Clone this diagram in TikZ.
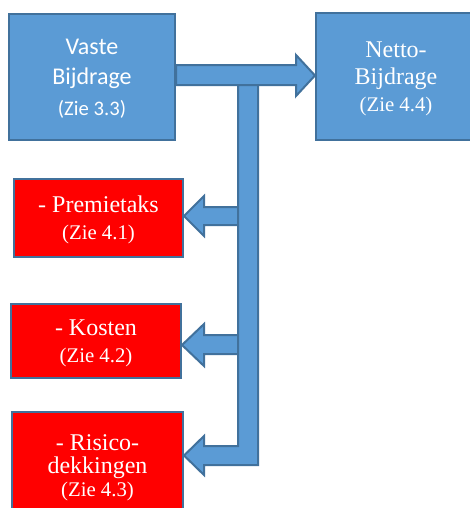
\documentclass[tikz,border=0pt]{standalone}
\usepackage{fontspec}
\setmainfont{Liberation Serif}
\newfontfamily\calibri{Carlito}
\usepackage{tikz}
\definecolor{boxblue}{RGB}{91,155,213}
\definecolor{edgeblue}{RGB}{65,113,156}

\begin{document}
\begin{tikzpicture}[x=0.75pt, y=-0.75pt, line width=1.5pt]
\useasboundingbox (0,0) rectangle (470,508);
\tikzstyle{every node} = [rectangle, draw=edgeblue, text=white, align=center, inner sep=0pt, text depth=0pt]
\tikzstyle{blue box} = [fill=boxblue]
\tikzstyle{red box} = [fill=red, font=\rmfamily\fontsize{18}{20}\selectfont]
\tikzstyle{block} = [draw=edgeblue, fill=boxblue, line join=miter]
\node[blue box, minimum width=124.5pt, minimum height=94.5pt, font=\calibri\fontsize{18}{22.5}\selectfont] (vaste) at (92,77)
	{Vaste\\Bijdrage\\[1pt]{\fontsize{15.5}{18}\selectfont (Zie 3.3)}};
\node[blue box, minimum width=120pt, minimum height=95.25pt, font=\rmfamily\fontsize{18}{20.5}\selectfont] (netto) at (396,76.5)
	{Netto-\\Bijdrage\\{\fontsize{15.6}{18}\selectfont (Zie 4.4)}};
\node[red box, minimum width=126.75pt, minimum height=58.5pt] (taks) at (98.5,218)
	{- Premietaks\\{\fontsize{15.6}{18}\selectfont (Zie 4.1)}};
\node[red box, minimum width=127.5pt, minimum height=55.5pt] (kosten) at (96,341)
	{- Kosten\\{\fontsize{15.6}{18}\selectfont (Zie 4.2)}};
\node[red box, minimum width=128.25pt, minimum height=80.25pt, font=\rmfamily\fontsize{18}{17}\selectfont] (risico) at (97.5,465.5)
	{- Risico-\\dekkingen\\{\fontsize{15.6}{17}\selectfont (Zie 4.3)}};
% block arrows
\draw[block] (vaste.east |- 0,65) -- (296,65) -- (296,55) -- (netto.west |- 0,75.5)
	-- (296,96) -- (296,85) -- (vaste.east |- 0,85) -- cycle;
\draw[block] (taks.east |- 0,216) -- (204,196) -- (204,207) -- (240,207)
	-- (240,225) -- (204,225) -- (204,236) -- cycle;
\draw[block] (kosten.east |- 0,345) -- (204,324) -- (204,335) -- (240,335)
	-- (240,354) -- (204,354) -- (204,366) -- cycle;
\draw[block] (238,85) -- (258,85) -- (258,465) -- (204,465) -- (204,475)
	-- (risico.east |- 0,455.5) -- (204,436) -- (204,446) -- (238,446) -- cycle;
\end{tikzpicture}
\end{document}
